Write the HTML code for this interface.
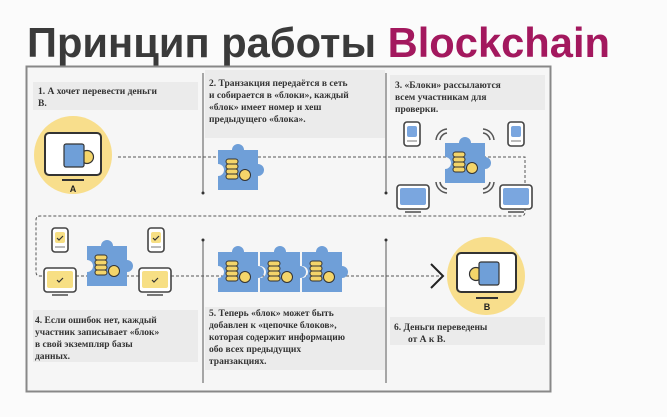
<!DOCTYPE html>
<html><head><meta charset="utf-8"><style>
body{margin:0;background:#fbfbfb;width:667px;height:412px;overflow:hidden;font-family:"Liberation Serif",serif}
</style></head><body>
<svg width="667" height="412" xmlns="http://www.w3.org/2000/svg" font-family="Liberation Serif, serif">
<defs>
<g id="blk">
<path d="M0,4 h14 a6,6 0 0 1 12,0 h14 v14 a6,6 0 0 1 0,12 v14 h-40 v-14 a6,6 0 0 0 0,-12 z" fill="#6f9fd8"/>
<rect x="8" y="13" width="12" height="5" rx="2.5" fill="#f4d56a" stroke="#333" stroke-width="1"/>
<rect x="8" y="18" width="12" height="5" rx="2.5" fill="#f4d56a" stroke="#333" stroke-width="1"/>
<rect x="8" y="23" width="12" height="5" rx="2.5" fill="#f4d56a" stroke="#333" stroke-width="1"/>
<rect x="8" y="28" width="12" height="5" rx="2.5" fill="#f4d56a" stroke="#333" stroke-width="1"/>
<circle cx="27" cy="29" r="5.5" fill="#f4d56a" stroke="#333" stroke-width="1"/>
</g>
<g id="phone"><rect x="0" y="0" width="16" height="24" rx="3" fill="#fff" stroke="#444" stroke-width="1.6"/><rect x="3" y="4" width="10" height="11" rx="2" fill="#7aa6df"/><line x1="3" y1="19" x2="13" y2="19" stroke="#777"/></g>
<g id="lap"><rect x="0" y="0" width="32" height="24" rx="3" fill="#fff" stroke="#444" stroke-width="1.6"/><rect x="3" y="3" width="26" height="17" rx="2" fill="#7aa6df"/><line x1="8" y1="27" x2="24" y2="27" stroke="#777" stroke-width="2"/></g>
<g id="yphone"><rect x="0" y="0" width="16" height="24" rx="3" fill="#fff" stroke="#444" stroke-width="1.6"/><rect x="3" y="4" width="10" height="11" rx="2" fill="#f7df84"/><path d="M5,10 l2,2 l4,-4" stroke="#333" fill="none" stroke-width="1.2"/><line x1="3" y1="19" x2="13" y2="19" stroke="#777"/></g>
<g id="ylap"><rect x="0" y="0" width="32" height="24" rx="3" fill="#fff" stroke="#444" stroke-width="1.6"/><rect x="3" y="3" width="26" height="17" rx="2" fill="#f7df84"/><path d="M13,12 l2,2 l4,-4" stroke="#333" fill="none" stroke-width="1.2"/><line x1="8" y1="27" x2="24" y2="27" stroke="#777" stroke-width="2"/></g>
</defs>
<text x="27" y="57" font-family="Liberation Sans, sans-serif" font-weight="bold" font-size="42" fill="#3a3a3a" textLength="583" lengthAdjust="spacingAndGlyphs">Принцип работы <tspan fill="#a3185e">Blockchain</tspan></text>
<rect x="26.5" y="66.5" width="524" height="325" fill="#f6f6f6" stroke="#888" stroke-width="2"/>
<rect x="33" y="82" width="165" height="28" fill="#ebebeb"/>
<rect x="205" y="70" width="180" height="68" fill="#ebebeb"/>
<rect x="390" y="75" width="155" height="35" fill="#ebebeb"/>
<rect x="33" y="310" width="165" height="52" fill="#ebebeb"/>
<rect x="205" y="307" width="180" height="63" fill="#ebebeb"/>
<rect x="390" y="317" width="155" height="28" fill="#ebebeb"/>
<g font-size="9.5" font-weight="bold" fill="#333">
<text x="38" y="94">1.  А хочет перевести деньги</text><text x="38" y="106">В.</text>
<text x="209" y="86">2. Транзакция передаётся в сеть</text>
<text x="209" y="98">и собирается в «блоки», каждый</text>
<text x="209" y="110">«блок» имеет номер и хеш</text>
<text x="209" y="122">предыдущего «блока».</text>
<text x="395" y="88">3. «Блоки» рассылаются</text>
<text x="395" y="100">всем участникам для</text>
<text x="395" y="112">проверки.</text>
<text x="35" y="323">4. Если ошибок нет, каждый</text>
<text x="35" y="335">участник записывает  «блок»</text>
<text x="35" y="347">в свой экземпляр базы</text>
<text x="35" y="359">данных.</text>
<text x="209" y="316">5. Теперь «блок» может быть</text>
<text x="209" y="328">добавлен к «цепочке блоков»,</text>
<text x="209" y="340">которая содержит информацию</text>
<text x="209" y="352">обо всех предыдущих</text>
<text x="209" y="364">транзакциях.</text>
<text x="394" y="330">6.  Деньги переведены</text>
<text x="408" y="342">от А к В.</text>
</g>
<g stroke="#555" stroke-width="1"><line x1="203" y1="73" x2="203" y2="193"/><line x1="386" y1="73" x2="386" y2="193"/>
<line x1="203" y1="240" x2="203" y2="383"/><line x1="386" y1="240" x2="386" y2="383"/></g>
<circle cx="203" cy="193" r="1.5" fill="#333"/><circle cx="386" cy="193" r="1.5" fill="#333"/><circle cx="203" cy="240" r="1.5" fill="#333"/><circle cx="386" cy="240" r="1.5" fill="#333"/>
<g stroke="#555" stroke-width="1" stroke-dasharray="3,2" fill="none">
<path d="M118,157 H525 V186"/>
<path d="M525,208 V212 q0,4 -4,4 H40 q-4,0 -4,4 V272 q0,4 4,4 H44"/>
<path d="M76,276 H440"/>
</g>
<circle cx="73" cy="155" r="39" fill="#f8de8c"/>
<rect x="45" y="133" width="56" height="42" rx="4" fill="#fff" stroke="#333" stroke-width="2"/>
<line x1="62" y1="180" x2="84" y2="180" stroke="#333" stroke-width="2"/>
<text x="73" y="192" font-family="Liberation Sans, sans-serif" font-size="9" font-weight="bold" text-anchor="middle" fill="#222">A</text>
<circle cx="87" cy="157" r="6.5" fill="#f4d56a" stroke="#333" stroke-width="1.2"/>
<rect x="64" y="144" width="20" height="23" rx="2" fill="#6f9fd8" stroke="#333" stroke-width="1.2"/>
<use href="#blk" x="218" y="146"/>
<use href="#phone" x="404" y="122"/><use href="#phone" x="508" y="122"/>
<use href="#lap" x="397" y="185"/><use href="#lap" x="500" y="185"/>
<use href="#blk" x="445" y="139"/>
<g stroke="#555" stroke-width="1.5" fill="none">
<path d="M440,140 a8,8 0 0 1 7,-7"/><path d="M436,140 a12,12 0 0 1 11,-11"/>
<path d="M490,140 a8,8 0 0 0 -7,-7"/><path d="M494,140 a12,12 0 0 0 -11,-11"/>
<path d="M440,182 a8,8 0 0 0 7,7"/><path d="M436,182 a12,12 0 0 0 11,11"/>
<path d="M490,182 a8,8 0 0 1 -7,7"/><path d="M494,182 a12,12 0 0 1 -11,11"/>
</g>
<use href="#yphone" x="52" y="228"/><use href="#yphone" x="148" y="228"/>
<use href="#ylap" x="44" y="268"/><use href="#ylap" x="139" y="268"/>
<use href="#blk" x="87" y="242"/>
<use href="#blk" x="218" y="248"/><use href="#blk" x="260" y="248"/><use href="#blk" x="302" y="248"/>
<path d="M431,264 L443,276 L431,288" stroke="#222" stroke-width="2" fill="none"/>
<circle cx="486" cy="276" r="39" fill="#f8de8c"/>
<rect x="457" y="253" width="59" height="39" rx="4" fill="#fff" stroke="#333" stroke-width="2"/>
<line x1="476" y1="298" x2="498" y2="298" stroke="#333" stroke-width="2"/>
<text x="487" y="310" font-family="Liberation Sans, sans-serif" font-size="9" font-weight="bold" text-anchor="middle" fill="#222">B</text>
<circle cx="476" cy="274" r="6.5" fill="#f4d56a" stroke="#333" stroke-width="1.2"/>
<rect x="479" y="262" width="20" height="23" rx="2" fill="#6f9fd8" stroke="#333" stroke-width="1.2"/>
</svg>
</body></html>
